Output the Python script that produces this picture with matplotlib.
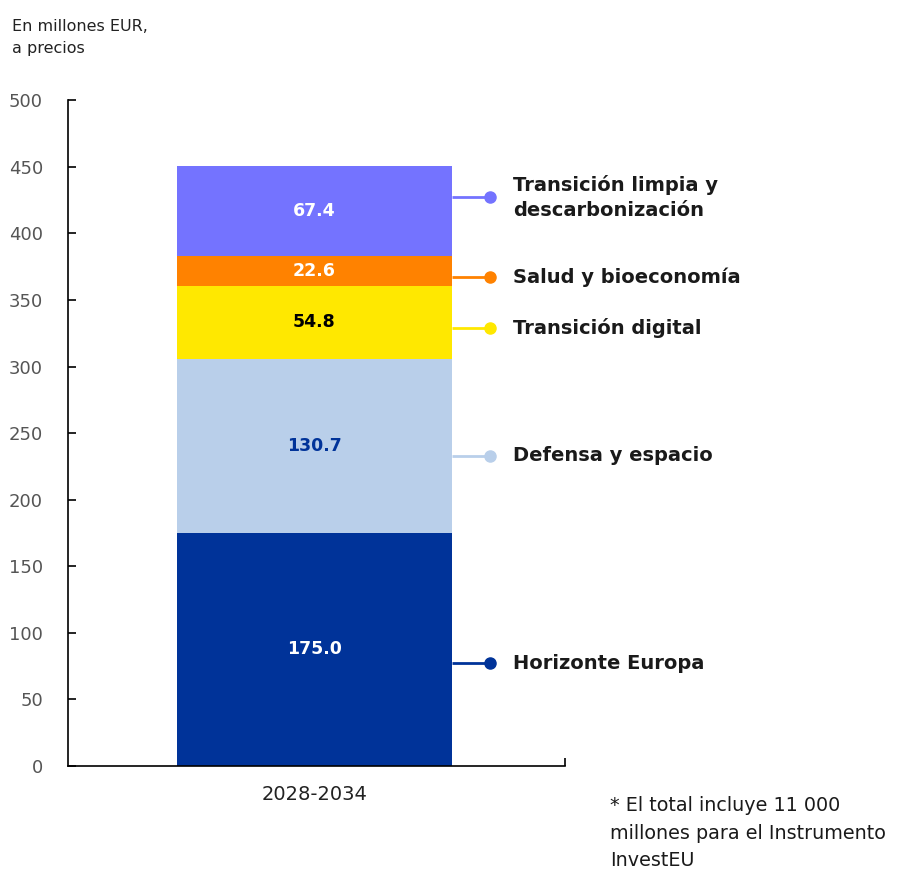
import matplotlib.pyplot as plt
import numpy as np

# Data
period = "2028-2034"
categories = ["Horizonte Europa", "Defensa y espacio", "Transición digital",
              "Salud y bioeconomía", "Transición limpia y\ndescarbonización"]
values = [175.0, 130.7, 54.8, 22.6, 67.4]
colors = ["#003399", "#B9CFEA", "#FFE800", "#FF8200", "#7473FF"]
value_colors = ["white", "#003399", "black", "white", "white"]
callout_y = [77, 233, 329, 367, 427]

fig = plt.figure(figsize=(9, 8.76), dpi=100)
ax = fig.add_axes([0.0756, 0.1256, 0.552, 0.760])

bar_w = 0.553
bottoms = np.concatenate([[0], np.cumsum(values)[:-1]])
for v, b, c, tc in zip(values, bottoms, colors, value_colors):
    ax.bar(0, v, bottom=b, width=bar_w, color=c, linewidth=0)
    ax.text(0, b + v / 2, f"{v:.1f}", ha="center", va="center",
            color=tc, fontsize=12.5, fontweight="bold")

# Callouts to the right of the bar
x_edge = bar_w / 2
x_dot = 0.353
for cat, y, c in zip(categories, callout_y, colors):
    ax.plot([x_edge, x_dot], [y, y], color=c, lw=2, clip_on=False,
            solid_capstyle="butt")
    ax.plot(x_dot, y, "o", color=c, ms=8, clip_on=False)
    ax.text(0.399, y, cat, ha="left", va="center", fontsize=14,
            fontweight="bold", color="#1a1a1a", linespacing=1.45)

ax.set_xlim(-0.496, 0.504)
ax.set_ylim(0, 500)
ax.set_yticks(np.arange(0, 501, 50))
ax.set_xticks([0])
ax.set_xticklabels([period])
ax.set_xticks([0.504], minor=True)
ax.tick_params(axis="x", which="major", length=0, pad=14, labelsize=14,
               labelcolor="#222222")
ax.tick_params(axis="x", which="minor", direction="in", length=6, width=1.2,
               bottom=True)
ax.tick_params(axis="y", direction="in", length=6, width=1.2, pad=18,
               labelsize=13, labelcolor="#555555")
ax.spines["top"].set_visible(False)
ax.spines["right"].set_visible(False)
ax.spines["left"].set_linewidth(1.2)
ax.spines["bottom"].set_linewidth(1.2)

fig.text(0.013, 0.978, "En millones EUR,\na precios", ha="left", va="top",
         fontsize=11.5, color="#222222", linespacing=1.6)
fig.text(0.678, 0.091, "* El total incluye 11 000\nmillones para el Instrumento\nInvestEU",
         ha="left", va="top", fontsize=13.8, color="#1a1a1a", linespacing=1.55)

fig.savefig("out.png", dpi=100)
